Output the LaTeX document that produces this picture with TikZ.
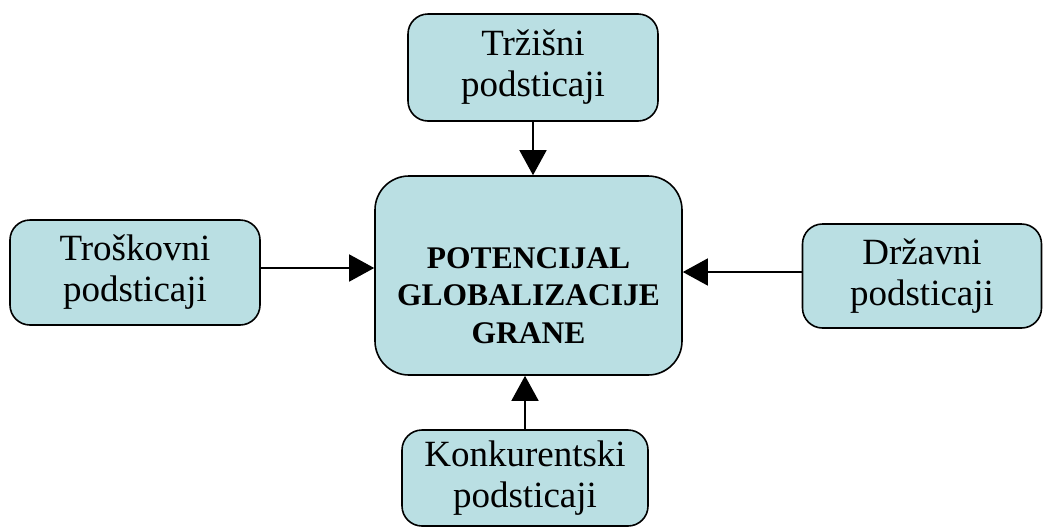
\documentclass[tikz,border=0pt]{standalone}
\usepackage{fontspec}
\setmainfont{Liberation Serif}
\usepackage{tikz}
\usetikzlibrary{arrows.meta,positioning}
\usepackage{xcolor}
\definecolor{boxblue}{RGB}{186,223,227}

\begin{document}
\begin{tikzpicture}[x=1pt,y=-1pt]
	\useasboundingbox (0,0) rectangle (1043,528);
	\begin{scope}[every node/.style={draw,fill=boxblue,line width=1.6pt,rounded corners=20pt,align=center,inner sep=0pt,font=\fontsize{37}{41}\selectfont}]
		\node[minimum width=250pt,minimum height=107pt] (trz) at (533,67.5) {Tržišni\\podsticaji};
		\node[minimum width=250pt,minimum height=105pt] (tro) at (135,272.5) {Troškovni\\podsticaji};
		\node[minimum width=239pt,minimum height=104pt] (drz) at (922,276) {Državni\\podsticaji};
		\node[minimum width=246pt,minimum height=96pt] (kon) at (525,478) {Konkurentski\\podsticaji};
		\node[minimum width=307pt,minimum height=199pt,rounded corners=34pt,
			label={[align=center,yshift=-20pt,font=\fontsize{31.5}{37.5}\selectfont\bfseries]center:POTENCIJAL\\GLOBALIZACIJE\\GRANE}] (pot) at (528.5,275.5) {};
	\end{scope}
	\begin{scope}[every path/.style={line width=1.5pt,-{Triangle[length=25pt,width=27pt]}}]
		\draw (trz.south) -- (trz.south |- pot.north);
		\draw (kon.north) -- (kon.north |- pot.south);
		\draw ([yshift=4.5pt]tro.east) -- ([yshift=4.5pt]tro.east -| pot.west);
		\draw ([yshift=4pt]drz.west) -- ([yshift=4pt]drz.west -| pot.east);
	\end{scope}
\end{tikzpicture}
\end{document}
